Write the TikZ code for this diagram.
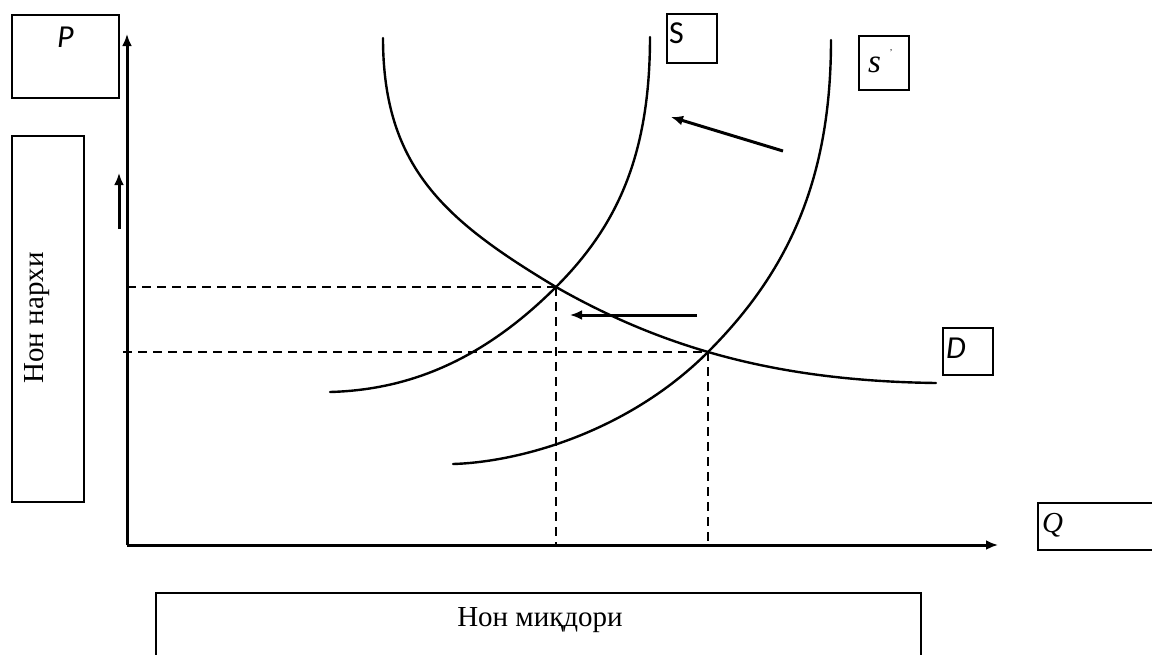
\documentclass[tikz,border=0pt]{standalone}
\usepackage{fontspec}
\setmainfont{Liberation Serif}
\newfontfamily\sansf{Carlito}
\usetikzlibrary{arrows.meta}
\tikzset{
  lbox/.style={draw, line width=1.8pt, rectangle, inner sep=0pt, anchor=north west},
  curve/.style={line width=2.4pt, line cap=round},
  axis/.style={line width=3pt, -{Latex[length=12pt,width=10pt]}},
  shiftarrow/.style={line width=3pt, -{Latex[length=12pt,width=10pt]}},
  guide/.style={line width=2.2pt, dash pattern=on 9pt off 6pt},
  serlab/.style={font=\fontsize{29}{31}\selectfont, inner sep=0pt},
  sanslab/.style={font=\sansf\fontsize{32}{34}\selectfont, inner sep=0pt},
}
\begin{document}
\begin{tikzpicture}[x=1pt,y=-1pt]
\clip (0,0) rectangle (1152,654);
% boxes
\node[lbox, minimum width=107pt, minimum height=83pt] (pbox) at (11,14) {};
\node[lbox, minimum width=72pt, minimum height=366pt] (ybox) at (11,135) {};
\node[lbox, minimum width=50pt, minimum height=49pt] (sbox) at (666,13) {};
\node[lbox, minimum width=50pt, minimum height=54pt] (s2box) at (858,35) {};
\node[lbox, minimum width=50pt, minimum height=47pt] (dbox) at (942,327) {};
\node[lbox, minimum width=130pt, minimum height=47pt] (qbox) at (1037,502) {};
\node[lbox, minimum width=765pt, minimum height=90pt] (xbox) at (155,592) {};
% labels
\node[sanslab, anchor=base west] (plab) at (57,47) {\itshape P};
\node[sanslab, anchor=base west] (slab) at (669,43) {S};
\node[serlab, anchor=base west, font=\fontsize{33}{35}\selectfont] (s2lab) at (868,72) {\itshape s};
\node[inner sep=0pt, font=\fontsize{9}{9}\selectfont] (s2prime) at (891,53) {'};
\node[sanslab, anchor=base west] (dlab) at (946,358) {\itshape D};
\node[serlab, anchor=base west] (qlab) at (1042,532) {\itshape Q};
\node[serlab, anchor=base, rotate=90] (ylab) at (43,318) {Нон нархи};
\node[serlab, anchor=base] (xlab) at (540,626) {Нон миқдори};
% axes
\coordinate (O) at (127,545);
\coordinate (ytop) at (127,34);
\coordinate (xend) at (998,545);
\draw[axis] (O) -- (ytop);
\draw[axis] (O) -- (xend);
% small up arrow
\coordinate (ua1) at (119,229);
\coordinate (ua2) at (119,173);
\draw[shiftarrow] (ua1) -- (ua2);
% equilibrium points
\coordinate (E1) at (556,287);
\coordinate (E2) at (708,352);
\coordinate (E1y) at (127,287);
\coordinate (E2y) at (123,352);
\coordinate (E1x) at (556,545);
\coordinate (E2x) at (708,545);
\draw[guide] (E1y) -- (E1);
\draw[guide] (E2y) -- (E2);
\draw[guide] (E1) -- (E1x);
\draw[guide] (E2) -- (E2x);
% curves
\coordinate (Dtop) at (383,38);
\coordinate (Dend) at (936,383);
\coordinate (Stop) at (650,37);
\coordinate (Send) at (330,392);
\coordinate (S2top) at (831,40);
\coordinate (S2end) at (453,464);
\draw[curve] (Dtop) .. controls (383,168) and (446,221) .. (E1)
                    .. controls (670,352) and (786,381) .. (Dend);
\draw[curve] (Stop) .. controls (650,157) and (616,227) .. (E1)
                    .. controls (476,367) and (400,390) .. (Send);
\draw[curve] (S2top) .. controls (831,180) and (788,272) .. (E2)
                     .. controls (628,432) and (520,462) .. (S2end);
% shift arrows
\coordinate (a1s) at (783,151);
\coordinate (a1e) at (671,117);
\coordinate (a2s) at (697,315);
\coordinate (a2e) at (570,315);
\draw[shiftarrow] (a1s) -- (a1e);
\draw[shiftarrow] (a2s) -- (a2e);
\end{tikzpicture}
\end{document}
